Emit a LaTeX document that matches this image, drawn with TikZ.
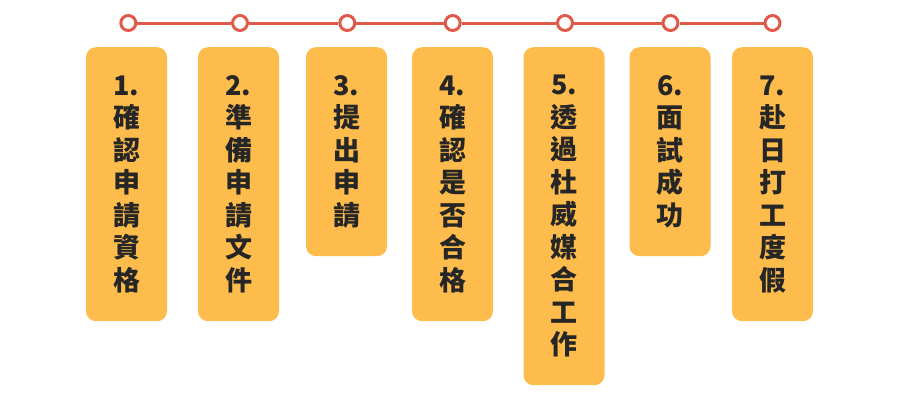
\documentclass[tikz,border=0pt]{standalone}
\usepackage{fontspec}
\newfontfamily\cjk{Noto Sans CJK TC}
\definecolor{boxfill}{HTML}{FDBC4B}
\definecolor{linered}{HTML}{E05A4A}
\definecolor{txt}{HTML}{262626}
\begin{document}
\begin{tikzpicture}[x=1pt,y=-1pt,
  stepbox/.style={fill=boxfill,rounded corners=10pt,minimum width=81pt,inner sep=0pt,
    text=txt,font=\cjk\bfseries\fontsize{27}{32.5}\selectfont,align=center,anchor=north},
  dot/.style={circle,draw=linered,line width=3pt,fill=white,minimum size=15pt,inner sep=0pt},
  link/.style={draw=linered,line width=3pt}]
\useasboundingbox (0,0) rectangle (900,400);
\node[stepbox,minimum height=274pt] (b1) at (126.5,47) {1.\\確\\認\\申\\請\\資\\格};
\node[stepbox,minimum height=274pt] (b2) at (238.5,47) {2.\\準\\備\\申\\請\\文\\件};
\node[stepbox,minimum height=209pt] (b3) at (346.5,47) {3.\\提\\出\\申\\請};
\node[stepbox,minimum height=274pt] (b4) at (452.5,47) {4.\\確\\認\\是\\否\\合\\格};
\node[stepbox,minimum height=338pt] (b5) at (564,47) {5.\\透\\過\\杜\\威\\媒\\合\\工\\作};
\node[stepbox,minimum height=209pt] (b6) at (670,47) {6.\\面\\試\\成\\功};
\node[stepbox,minimum height=274pt] (b7) at (772.5,47) {7.\\赴\\日\\打\\工\\度\\假};
\node[dot] (c1) at (128.3,23) {};
\node[dot] (c2) at (240,23) {};
\node[dot] (c3) at (347.3,23) {};
\node[dot] (c4) at (452.7,23) {};
\node[dot] (c5) at (565,23) {};
\node[dot] (c6) at (670.5,23) {};
\node[dot] (c7) at (772.5,23) {};
\draw[link] (c1) -- (c2);
\draw[link] (c2) -- (c3);
\draw[link] (c3) -- (c4);
\draw[link] (c4) -- (c5);
\draw[link] (c5) -- (c6);
\draw[link] (c6) -- (c7);
\end{tikzpicture}
\end{document}
